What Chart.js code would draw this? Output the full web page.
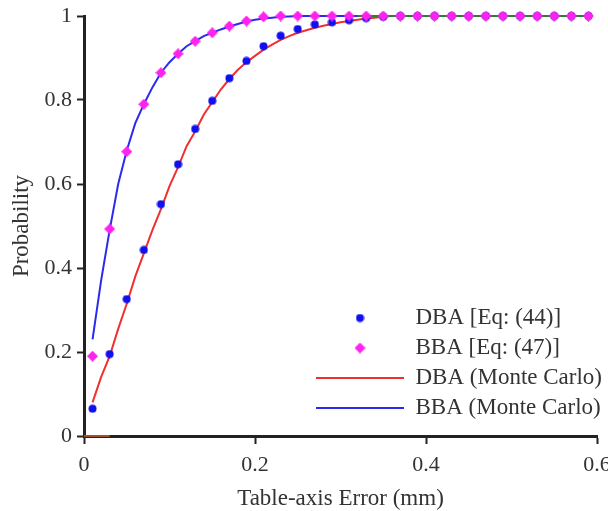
<!DOCTYPE html>
<html>
<head>
<meta charset="utf-8">
<script src="https://cdn.jsdelivr.net/npm/chart.js@4.4.0/dist/chart.umd.min.js"></script>
<style>
  html, body { margin: 0; padding: 0; background: #fff; }
</style>
</head>
<body>
<canvas id="chart" width="608" height="511"></canvas>
<script>
// closed-form values (markers)
const markerX = [0.01, 0.03, 0.05, 0.07, 0.09, 0.11, 0.13, 0.15, 0.17, 0.19,
                 0.21, 0.23, 0.25, 0.27, 0.29, 0.31, 0.33, 0.35, 0.37, 0.39,
                 0.41, 0.43, 0.45, 0.47, 0.49, 0.51, 0.53, 0.55, 0.57, 0.59];
const dbaEq = [0.065, 0.195, 0.326, 0.443, 0.552, 0.647, 0.731, 0.798, 0.852, 0.893,
               0.928, 0.953, 0.969, 0.98, 0.985, 0.99, 0.995, 0.998, 1, 1,
               1, 1, 1, 1, 1, 1, 1, 1, 1, 1];
const bbaEq = [0.19, 0.493, 0.677, 0.79, 0.865, 0.91, 0.94, 0.96, 0.976, 0.988,
               0.998, 1, 1, 1, 1, 1, 1, 1, 1, 1,
               1, 1, 1, 1, 1, 1, 1, 1, 1, 1];

// monte carlo curves
const mcX = [0.01, 0.02, 0.03, 0.04, 0.05, 0.06, 0.07, 0.08, 0.09, 0.10,
             0.11, 0.12, 0.13, 0.14, 0.15, 0.16, 0.17, 0.18, 0.19, 0.20,
             0.21, 0.22, 0.23, 0.24, 0.25, 0.26, 0.27, 0.28, 0.29, 0.30,
             0.31, 0.32, 0.33, 0.34, 0.35, 0.36];
const dbaMC = [0.08, 0.14, 0.19, 0.255, 0.315, 0.38, 0.435, 0.49, 0.54, 0.595,
               0.64, 0.69, 0.725, 0.765, 0.795, 0.825, 0.85, 0.872, 0.89, 0.905,
               0.92, 0.932, 0.943, 0.952, 0.96, 0.966, 0.972, 0.977, 0.981, 0.985,
               0.988, 0.991, 0.994, 0.996, 0.998, 1];
const bbaMC = [0.23, 0.37, 0.49, 0.6, 0.68, 0.745, 0.79, 0.83, 0.865, 0.89,
               0.91, 0.928, 0.94, 0.952, 0.96, 0.968, 0.975, 0.981, 0.987, 0.991,
               0.994, 0.996, 0.998, 0.999, 1, 1, 1, 1, 1, 1,
               1, 1, 1, 1, 1, 1];

// stray unlabeled segments
const tailX = [0.32, 0.59];
const tailY = [1, 1];
const baseX = [0.0, 0.03];
const baseY = [0, 0];

const xTicks = [0, 0.2, 0.4, 0.6];
const yTicks = [0, 0.2, 0.4, 0.6, 0.8, 1];
const seriesNames = ['DBA [Eq: (44)]', 'BBA [Eq: (47)]', 'DBA (Monte Carlo)', 'BBA (Monte Carlo)'];

const serif = '"Liberation Serif", "Times New Roman", serif';
const txt = '#333';
const axisCol = '#222';

const pts = (xs, ys) => xs.map((x, i) => ({ x: x, y: ys[i] }));
const tickText = v => String(+v.toFixed(1));

function marker(shape, color, size) {
    const c = document.createElement('canvas');
    c.width = size; c.height = size;
    const g = c.getContext('2d');
    const h = size / 2;
    g.fillStyle = color;
    g.beginPath();
    if (shape === 'circle') {
        g.arc(h, h, h - 0.5, 0, Math.PI * 2);
    } else {
        g.moveTo(h, 0); g.lineTo(size, h); g.lineTo(h, size); g.lineTo(0, h); g.closePath();
    }
    g.fill();
    return c;
}
const blueDot = marker('circle', '#1010ee', 9);
const pinkDiamond = marker('diamond', '#ff22ee', 11);

// put the legend in the lower right of the plot
const moveLegend = {
    id: 'moveLegend',
    afterLayout(chart) {
        const lg = chart.legend;
        lg.left = 309; lg.top = 299.5;
        lg.right = 608; lg.bottom = 436;
    }
};

new Chart(document.getElementById('chart'), {
    type: 'scatter',
    data: {
        datasets: [
            { label: seriesNames[0], data: pts(markerX, dbaEq), pointStyle: blueDot, pointRadius: 4, showLine: false, order: 1, clip: false },
            { label: seriesNames[1], data: pts(markerX, bbaEq), pointStyle: pinkDiamond, pointRadius: 5, showLine: false, order: 0, clip: false },
            { label: seriesNames[2], data: pts(mcX, dbaMC), showLine: true, borderColor: '#f03030', borderWidth: 2, pointRadius: 0, pointStyle: 'line', order: 4, clip: false },
            { label: seriesNames[3], data: pts(mcX, bbaMC), showLine: true, borderColor: '#2a2af0', borderWidth: 2, pointRadius: 0, pointStyle: 'line', order: 3, clip: false },
            { label: 'tail', data: pts(tailX, tailY), showLine: true, borderColor: '#2e7d32', borderWidth: 2, pointRadius: 0, order: 2, clip: false },
            { label: 'base', data: pts(baseX, baseY), showLine: true, borderColor: '#a0502a', borderWidth: 2, pointRadius: 0, order: 2, clip: false }
        ]
    },
    options: {
        responsive: false,
        animation: false,
        devicePixelRatio: 1,
        layout: { padding: { top: 16, right: 11, left: 0, bottom: 0 }, autoPadding: false },
        plugins: {
            tooltip: { enabled: false },
            legend: {
                position: 'chartArea',
                align: 'start',
                labels: {
                    usePointStyle: true,
                    pointStyleWidth: 88,
                    padding: 7,
                    color: txt,
                    font: { family: serif, size: 23 },
                    filter: item => item.datasetIndex < 4,
                    sort: (a, b) => a.datasetIndex - b.datasetIndex
                }
            }
        },
        scales: {
            x: {
                type: 'linear', min: 0, max: 0.6,
                afterBuildTicks: s => { s.ticks = xTicks.map(v => ({ value: v })); },
                afterFit: s => { s.height = 75; s.paddingLeft = 0; s.paddingRight = 0; },
                border: { color: axisCol, width: 3 },
                grid: { drawOnChartArea: false, drawTicks: true, tickLength: 8, tickWidth: 2, tickColor: axisCol },
                ticks: { color: txt, font: { family: serif, size: 22 }, padding: 8, maxRotation: 0, autoSkip: false, callback: tickText },
                title: { display: true, text: 'Table-axis Error (mm)', color: txt, font: { family: serif, size: 23 }, padding: { top: 0, bottom: -2 } }
            },
            y: {
                type: 'linear', min: 0, max: 1,
                afterBuildTicks: s => { s.ticks = yTicks.map(v => ({ value: v })); },
                afterFit: s => { s.width = 84; s.paddingTop = 0; s.paddingBottom = 0; },
                border: { color: axisCol, width: 3 },
                grid: { drawOnChartArea: false, drawTicks: true, tickLength: 7, tickWidth: 2, tickColor: axisCol },
                ticks: { color: txt, font: { family: serif, size: 22 }, padding: 5, autoSkip: false, callback: tickText },
                title: { display: true, text: 'Probability', color: txt, font: { family: serif, size: 23 }, padding: { top: 8, bottom: 0 } }
            }
        }
    },
    plugins: [moveLegend]
});
</script>
</body>
</html>
